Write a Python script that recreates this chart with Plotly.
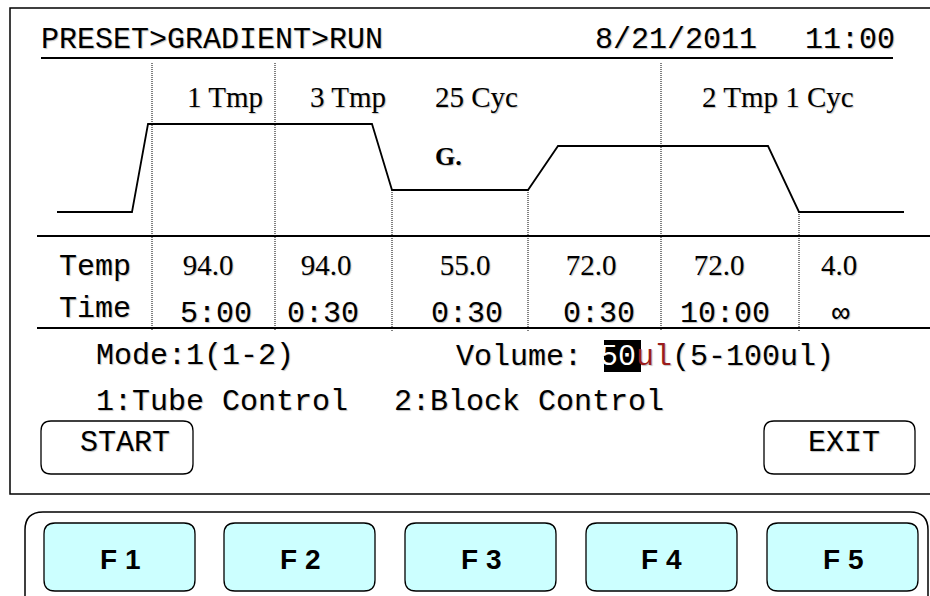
import plotly.graph_objects as go

# ---------------- data ----------------
header_path = "PRESET>GRADIENT>RUN"
run_date = "8/21/2011"
run_clock = "11:00"
start_temp = 4.0
step_temps = [94.0, 94.0, 55.0, 72.0, 72.0, 4.0]
step_times = ["5:00", "0:30", "0:30", "0:30", "10:00", "\u221e"]
segment_labels = ["1 Tmp", "3 Tmp", "25 Cyc", "2 Tmp 1 Cyc"]
gradient_mark = "G."
row_labels = ["Temp", "Time"]
mode_text = "Mode:1(1-2)"
volume_label = "Volume: "
volume_value = "50"
volume_unit = "ul"
volume_range = "(5-100ul)"
control_options = ["1:Tube Control", "2:Block Control"]
soft_buttons = ["START", "EXIT"]
function_keys = ["F 1", "F 2", "F 3", "F 4", "F 5"]

# ---------------- layout (positions / styles) ----------------
W, H = 930, 596
MONO = "Liberation Mono, Courier New, monospace"
SERIF = "Liberation Serif, Times New Roman, serif"
SANS = "Liberation Sans, Arial, sans-serif"
SHADOW = "1px 1px 1px rgba(0,0,0,0.25)"

profile_x = [57, 132, 148, 372, 392, 528, 558, 768, 799, 904]
level_order = ["4.0", "55.0", "\u00b7", "72.0", "94.0"]   # schematic temperature levels
level_px0, level_step = 212, 22                        # pixel of lowest level, px per level
temp_x = [208, 326, 465, 591, 719, 839]
time_x = [216, 323, 467, 599, 725, 841]
label_x = [225, 348, 476, 778]
divider_x = [152, 275, 392, 528, 661, 799]
divider_top = [63, 63, 190, 190, 63, 212]
fkey_x0 = [44, 224, 405, 586, 767]
fkey_w = 151

# profile: start level, then each distinct plateau drawn flat
plateaus = []
for t in step_temps:
    if not plateaus or plateaus[-1] != t:
        plateaus.append(t)
profile_levels = [start_temp, start_temp]
for t in plateaus:
    profile_levels += [t, t]
profile_y = [f"{t:.1f}" for t in profile_levels]

fig = go.Figure()

# temperature profile on schematic level axis
fig.add_trace(go.Scatter(
    x=profile_x, y=profile_y, mode="lines", yaxis="y2",
    line=dict(color="black", width=1.8), hoverinfo="skip", showlegend=False))

# temperature & time values
fig.add_trace(go.Scatter(
    x=temp_x, y=[268] * len(step_temps), mode="text",
    text=[f"{t:.1f}" for t in step_temps],
    textfont=dict(family=SERIF, size=29, color="black", shadow=SHADOW),
    hoverinfo="skip", showlegend=False))
fig.add_trace(go.Scatter(
    x=time_x, y=[314] * len(step_times), mode="text",
    text=step_times,
    textfont=dict(family=MONO, size=30, color="black", shadow=SHADOW),
    hoverinfo="skip", showlegend=False))

shapes = []


def rrect(x0, y0, x1, y1, r):
    return (f"M{x0+r},{y0} L{x1-r},{y0} Q{x1},{y0} {x1},{y0+r} L{x1},{y1-r} "
            f"Q{x1},{y1} {x1-r},{y1} L{x0+r},{y1} Q{x0},{y1} {x0},{y1-r} "
            f"L{x0},{y0+r} Q{x0},{y0} {x0+r},{y0} Z")


# screen frame
shapes.append(dict(type="rect", x0=10, x1=940, y0=8, y1=494,
                   line=dict(color="black", width=1.5)))
# header underline and row separators
shapes.append(dict(type="line", x0=41, x1=893, y0=58, y1=58,
                   line=dict(color="black", width=2.2)))
for yy in (236, 328):
    shapes.append(dict(type="line", x0=37, x1=935, y0=yy, y1=yy,
                       line=dict(color="black", width=2)))
# dotted step dividers
for xx, top in zip(divider_x, divider_top):
    shapes.append(dict(type="line", x0=xx, x1=xx, y0=top, y1=331,
                       line=dict(color="black", width=1, dash="1px,1px")))
# highlight behind the volume value
shapes.append(dict(type="rect", x0=604, x1=641, y0=340, y1=372,
                   fillcolor="black", line=dict(width=0), layer="below"))
# soft buttons
for (bx0, bx1) in [(41, 193), (764, 915)]:
    shapes.append(dict(type="path", path=rrect(bx0, 421, bx1, 474, 10),
                       line=dict(color="black", width=1.3)))
# keypad panel
shapes.append(dict(type="path", path=rrect(25, 512, 928, 640, 18),
                   line=dict(color="black", width=1.5)))
for x0 in fkey_x0:
    shapes.append(dict(type="path", path=rrect(x0, 523, x0 + fkey_w, 591, 11),
                       fillcolor="#CCFFFF", line=dict(color="black", width=1.3)))

ann = []


def txt(x, y, s, fam, size, anchor="left", color="black", shadow=SHADOW):
    ann.append(dict(x=x, y=y, xref="x", yref="y", text=s, showarrow=False,
                    xanchor=anchor, yanchor="middle", align=anchor,
                    font=dict(family=fam, size=size, color=color, shadow=shadow)))


txt(39, 40, header_path, MONO, 30)
txt(593, 40, run_date, MONO, 30)
txt(803, 40, run_clock, MONO, 30)
for lx, s in zip(label_x, segment_labels):
    txt(lx, 97, s, SERIF, 29, anchor="center")
txt(448, 156, f"<b>{gradient_mark}</b>", SERIF, 26, anchor="center")
txt(57, 267, row_labels[0], MONO, 30)
txt(57, 309, row_labels[1], MONO, 30)
txt(94, 356, mode_text, MONO, 30)
txt(454, 357,
    f"{volume_label}<span style='color:white'>{volume_value}</span>"
    f"<span style='color:#9b1c1c'>{volume_unit}</span>{volume_range}",
    MONO, 30)
txt(94, 402, control_options[0], MONO, 30)
txt(392, 402, control_options[1], MONO, 30)
txt(125, 443, soft_buttons[0], MONO, 30, anchor="center")
txt(844, 443, soft_buttons[1], MONO, 30, anchor="center")
for x0, s in zip(fkey_x0, function_keys):
    txt(x0 + fkey_w / 2, 559, f"<b>{s}</b>", SANS, 28, anchor="center", shadow="none")

r0 = -(H - level_px0) / level_step
fig.update_layout(
    width=W, height=H, autosize=False,
    margin=dict(l=0, r=0, t=0, b=0),
    paper_bgcolor="white", plot_bgcolor="white",
    showlegend=False,
    xaxis=dict(range=[0, W], visible=False, fixedrange=True),
    yaxis=dict(range=[H, 0], visible=False, fixedrange=True),
    yaxis2=dict(overlaying="y", type="category", categoryorder="array",
                categoryarray=level_order, range=[r0, r0 + H / level_step],
                visible=False, fixedrange=True),
    shapes=shapes, annotations=ann,
)

fig.write_html(
    "out.html",
    config={"displayModeBar": False},
    post_script="document.body.style.margin='0px';document.body.style.overflow='hidden';",
)
